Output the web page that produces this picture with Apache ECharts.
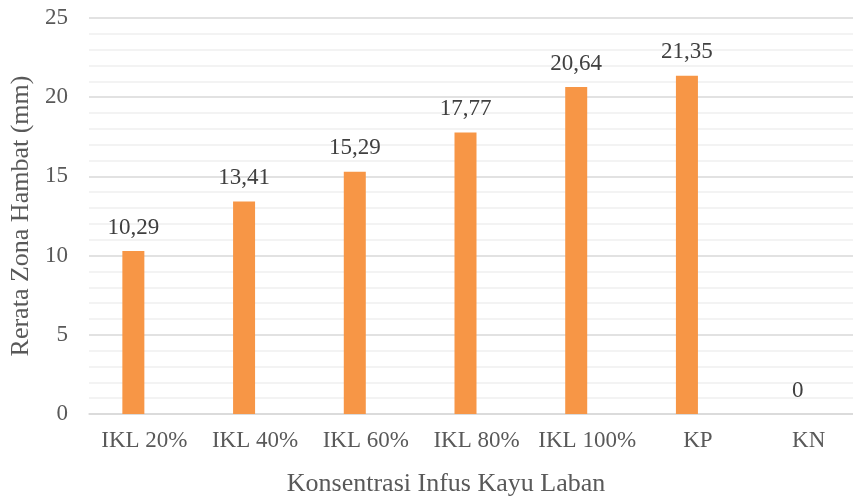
<!DOCTYPE html>
<html>
<head>
<meta charset="utf-8">
<script src="https://cdn.jsdelivr.net/npm/echarts@6/dist/echarts.min.js"></script>
<style>
html,body{margin:0;padding:0;background:#fff;overflow:hidden;width:853px;height:500px;}
#chart{width:880px;height:500px;}
</style>
</head>
<body>
<div id="chart"></div>
<script>
var categories = ["IKL 20%", "IKL 40%", "IKL 60%", "IKL 80%", "IKL 100%", "KP", "KN"];
var zonaHambat = [10.29, 13.41, 15.29, 17.77, 20.64, 21.35, 0];
var emptySeries = [];
var yTicks = [0, 5, 10, 15, 20, 25];
var yAxisTitle = "Rerata Zona Hambat (mm)";
var xAxisTitle = "Konsentrasi Infus Kayu Laban";

var FONT = '"Liberation Serif", "Times New Roman", serif';
var chart = echarts.init(document.getElementById('chart'), null, {renderer: 'canvas'});
chart.setOption({
  animation: false,
  backgroundColor: '#ffffff',
  title: {
    text: xAxisTitle,
    left: 446,
    top: 471,
    textAlign: 'center',
    padding: 0,
    textStyle: {fontFamily: FONT, fontSize: 26, fontWeight: 'normal', color: '#595959'}
  },
  grid: {left: 88, top: 18, width: 776, height: 396},
  xAxis: {
    type: 'category',
    data: categories,
    axisTick: {show: false},
    axisLine: {lineStyle: {color: '#d9d9d9', width: 1.5}},
    axisLabel: {fontFamily: FONT, fontSize: 23, color: '#595959', margin: 15, interval: 0}
  },
  yAxis: {
    type: 'value',
    min: yTicks[0],
    max: yTicks[yTicks.length - 1],
    interval: 5,
    name: yAxisTitle,
    nameLocation: 'middle',
    nameGap: 55,
    nameRotate: 90,
    nameTextStyle: {fontFamily: FONT, fontSize: 26, color: '#595959'},
    axisLine: {show: false},
    axisTick: {show: false},
    axisLabel: {fontFamily: FONT, fontSize: 23, color: '#595959', margin: 21},
    splitLine: {lineStyle: {color: '#d9d9d9', width: 1.5}},
    minorTick: {show: false, splitNumber: 5},
    minorSplitLine: {show: true, lineStyle: {color: '#f0f0f0', width: 1.5}}
  },
  series: [
    {
      type: 'bar',
      data: zonaHambat,
      barWidth: 22,
      barGap: '0%',
      itemStyle: {color: '#F79646'},
      label: {
        show: true,
        position: 'top',
        distance: 12,
        fontFamily: FONT,
        fontSize: 23,
        color: '#404040',
        formatter: function (p) { return String(p.value).replace('.', ','); }
      }
    },
    {
      type: 'bar',
      data: emptySeries,
      barWidth: 22,
      barGap: '0%'
    }
  ]
});
</script>
</body>
</html>
